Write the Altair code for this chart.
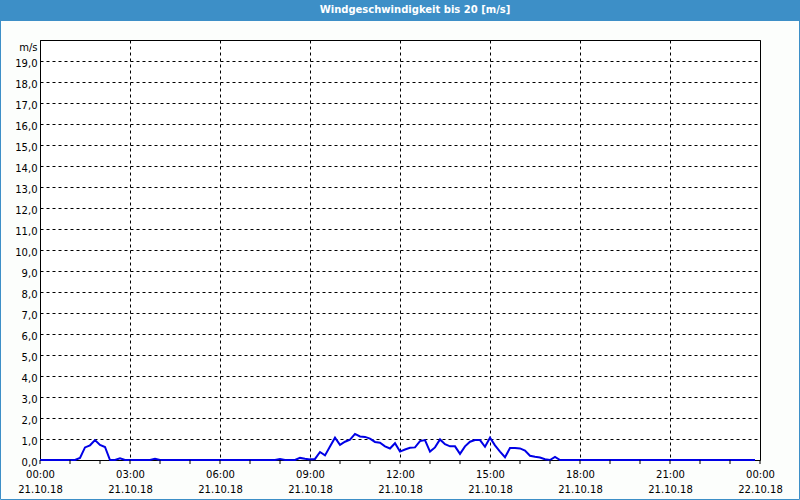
import altair as alt
import pandas as pd

# 10-minute samples of wind speed [m/s] on 21.10.18, one row per hour
speed = [
    0, 0, 0, 0, 0, 0,                    # 00
    0, 0, 0.1, 0.6, 0.7, 0.95,           # 01
    0.72, 0.62, 0, 0, 0.08, 0,           # 02
    0, 0, 0, 0, 0, 0.06,                 # 03
    0, 0, 0, 0, 0, 0,                    # 04
    0, 0, 0, 0, 0, 0,                    # 05
    0, 0, 0, 0, 0, 0,                    # 06
    0, 0, 0, 0, 0, 0,                    # 07
    0.05, 0, 0, 0, 0.1, 0.06,            # 08
    0.03, 0.05, 0.38, 0.22, 0.64, 1.06,  # 09
    0.72, 0.87, 0.97, 1.24, 1.12, 1.1,   # 10
    1.02, 0.86, 0.82, 0.65, 0.55, 0.8,   # 11
    0.4, 0.5, 0.58, 0.6, 0.9, 0.95,      # 12
    0.4, 0.6, 0.98, 0.75, 0.65, 0.65,    # 13
    0.29, 0.65, 0.87, 0.95, 0.95, 0.63,  # 14
    1.06, 0.7, 0.4, 0.13, 0.57, 0.57,    # 15
    0.55, 0.45, 0.2, 0.15, 0.12, 0.04,   # 16
    0, 0.15, 0, 0, 0, 0,                 # 17
    0, 0, 0, 0, 0, 0,                    # 18
    0, 0, 0, 0, 0, 0,                    # 19
    0, 0, 0, 0, 0, 0,                    # 20
    0, 0, 0, 0, 0, 0,                    # 21
    0, 0, 0, 0, 0, 0,                    # 22
    0, 0, 0, 0, 0, 0,                    # 23
]
times = [t.strftime("%Y-%m-%dT%H:%M:%S") for t in pd.date_range("2018-10-21 00:00", periods=len(speed), freq="10min")]
hour_ticks = [t.strftime("%Y-%m-%dT%H:%M:%S") for t in pd.date_range("2018-10-21 00:00", "2018-10-22 00:00", freq="1h")]
major_ticks = hour_ticks[::3]
y_ticks = list(range(0, 21))
title_text = "Windgeschwindigkeit bis 20 [m/s]"

df = pd.DataFrame({"time": times, "speed": speed})
hours_df = pd.DataFrame({"time": hour_ticks})

FONT = "DejaVu Sans"
BLUE = "#3D8FC7"

x_scale = alt.Scale(domain=[hour_ticks[0], hour_ticks[-1]])

x_enc = alt.X(
    "time:T",
    scale=x_scale,
    axis=alt.Axis(
        title=None,
        values=major_ticks,
        grid=True,
        gridColor="black",
        gridDash=[3, 3],
        gridWidth=1,
        labelExpr="[timeFormat(datum.value, '%H:%M'), timeFormat(datum.value, '%d.%m.%y')]",
        ticks=False,
        domain=False,
        labelPadding=9,
        labelFont=FONT,
        labelFontSize=10,
        labelColor="black",
        labelLineHeight=15,
        labelOverlap=False,
        labelFlush=False,
        labelBound=False,
    ),
)

y_enc = alt.Y(
    "speed:Q",
    scale=alt.Scale(domain=[0, 20], nice=False),
    axis=alt.Axis(
        title=None,
        values=y_ticks,
        grid=True,
        gridColor="black",
        gridDash=[3, 3],
        gridWidth=1,
        ticks=False,
        domain=False,
        labelExpr="datum.value == 20 ? 'm/s' : replace(format(datum.value, '.1f'), '.', ',')",
        labelPadding=3,
        labelOffset={"condition": {"test": "datum.value == 20", "value": 7}, "value": 2},
        labelFont=FONT,
        labelFontSize=10,
        labelColor="black",
        labelOverlap=False,
        labelFlush=False,
        labelBound=False,
    ),
)

line = alt.Chart(df).mark_line(color="#0000E6", strokeWidth=2).encode(x=x_enc, y=y_enc)

hour_marks = alt.Chart(hours_df).mark_rule(color="black", strokeWidth=1).encode(
    x=alt.X("time:T", scale=x_scale), y=alt.value(420), y2=alt.value(424)
)

one = alt.Data(values=[{"a": 1}])
title_bar = alt.Chart(one).mark_rect(color=BLUE).encode(
    x=alt.value(-40), x2=alt.value(760), y=alt.value(-40), y2=alt.value(-19)
)
frame = alt.Chart(one).mark_rect(fillOpacity=0, stroke=BLUE, strokeWidth=1).encode(
    x=alt.value(-39.5), x2=alt.value(759.5), y=alt.value(-39.5), y2=alt.value(459.5)
)
title = alt.Chart(one).mark_text(
    text=title_text, color="white", font=FONT, fontSize=10, fontWeight="bold",
    align="center", baseline="middle"
).encode(x=alt.value(375), y=alt.value(-30))

chart = alt.layer(line, hour_marks, title_bar, frame, title).properties(
    width=720,
    height=420,
    autosize=alt.AutoSizeParams(type="none"),
    padding={"left": 40, "top": 40, "right": 40, "bottom": 40},
    background="#FCFEFC",
).configure_view(
    fill="white", stroke="black", strokeWidth=1
)

chart.save("out.html", embed_options={"renderer": "svg", "actions": False})
